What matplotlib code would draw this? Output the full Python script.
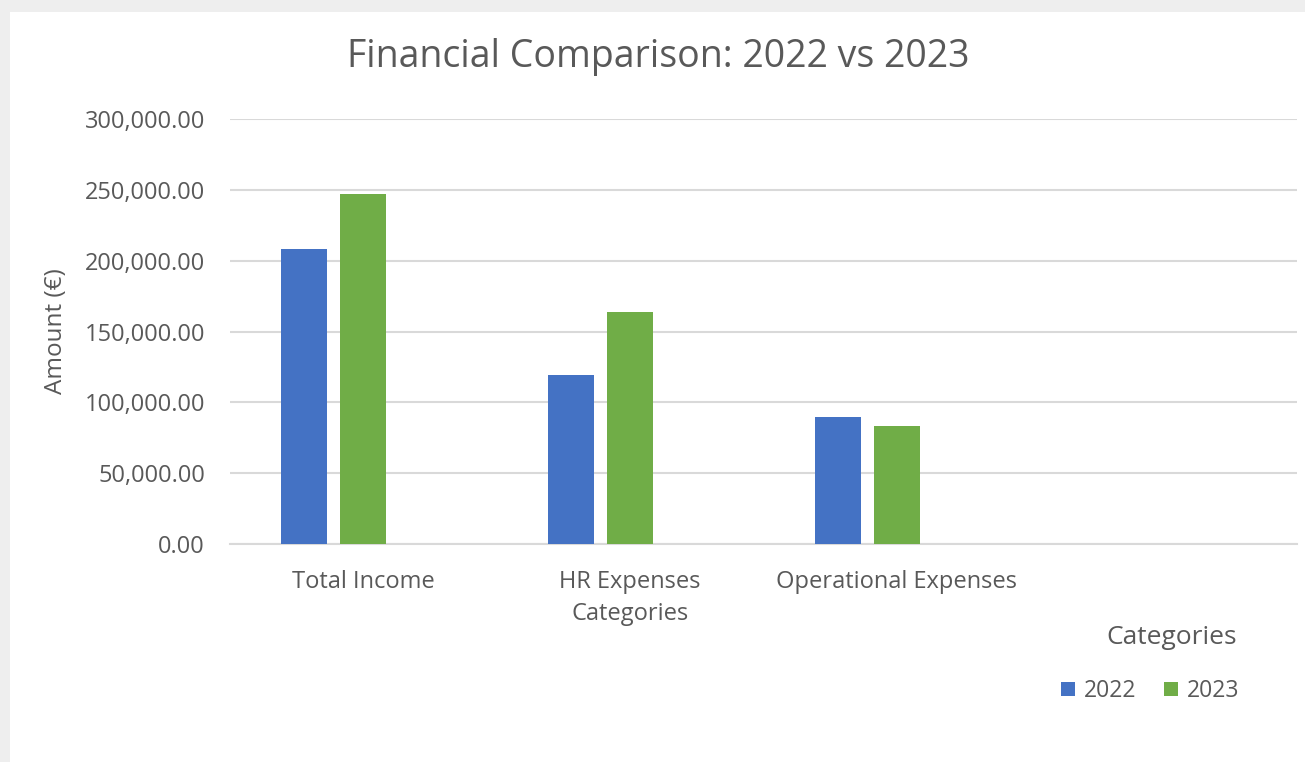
import matplotlib.pyplot as plt
from matplotlib.patches import Rectangle
import numpy as np

categories = ['Total Income', 'HR Expenses\nCategories', 'Operational Expenses', '']
values_2022 = [208000, 119000, 90000, 0]
values_2023 = [247000, 164000, 83000, 0]
series_names = ['2022', '2023']
yticks = [0, 50000, 100000, 150000, 200000, 250000, 300000]

blue = '#4472c4'
green = '#70ad47'
grey_text = '#595959'
grid_col = '#d9d9d9'

plt.rcParams['font.family'] = ['Open Sans', 'DejaVu Sans']

W, H = 1305, 762
fig = plt.figure(figsize=(W / 100, H / 100), dpi=100)
fig.patch.set_facecolor('#eeeeee')
# white chart panel
fig.patches.append(Rectangle((10 / W, 0), 1 - 10 / W, 1 - 12 / H,
                             transform=fig.transFigure, facecolor='white',
                             edgecolor='none', zorder=-5))

ax = fig.add_axes([230 / W, 1 - 544 / H, (1297 - 230) / W, (544 - 119) / H])
ax.set_facecolor('none')

x = np.arange(len(categories))
bw = 0.172
ax.bar(x - 0.222, values_2022, bw, color=blue, label=series_names[0], zorder=3)
ax.bar(x, values_2023, bw, color=green, label=series_names[1], zorder=3)

ax.set_xlim(-0.5, len(categories) - 0.5)
ax.set_ylim(0, 300000)
ax.set_yticks(yticks)
ax.set_yticklabels([f'{v:,.2f}' for v in yticks])
ax.set_xticks(x)
ax.set_xticklabels(categories, linespacing=1.45)
ax.tick_params(axis='both', length=0, labelsize=17, colors=grey_text)
ax.tick_params(axis='y', pad=18)
ax.tick_params(axis='x', pad=19)
ax.grid(axis='y', color=grid_col, linewidth=1.5, zorder=0)
for s in ['top', 'right', 'left']:
    ax.spines[s].set_visible(False)
ax.spines['bottom'].set_color(grid_col)
ax.spines['bottom'].set_linewidth(1.5)

ax.set_ylabel('Amount (€)', fontsize=17.5, color=grey_text, labelpad=12)

fig.text(658 / W, 1 - 57 / H, 'Financial Comparison: 2022 vs 2023',
         ha='center', va='center', fontsize=27, color=grey_text)
fig.text(1172 / W, 1 - 637 / H, 'Categories', ha='center', va='center',
         fontsize=19, color=grey_text)

ax.legend(loc='center', bbox_to_anchor=(1150 / W, 1 - 691 / H),
          bbox_transform=fig.transFigure, ncol=2, frameon=False,
          fontsize=16.5, labelcolor=grey_text, handlelength=0.6,
          handleheight=0.6, handletextpad=0.4, columnspacing=1.2)

fig.savefig('out.png', dpi=100)
